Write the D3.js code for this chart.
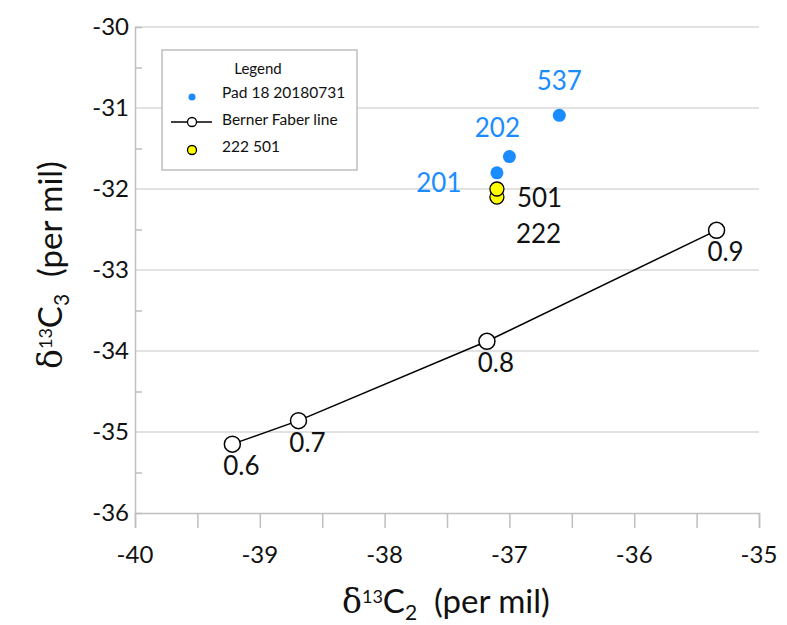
<!DOCTYPE html>
<html>
<head>
<meta charset="utf-8">
<script src="https://cdn.jsdelivr.net/npm/d3@7"></script>
<style>
  body { margin: 0; background: #fff; }
  svg { display: block; font-family: Lato, "Open Sans", sans-serif; }
</style>
</head>
<body>
<div id="chart"></div>
<script>
// Pad 18 20180731 samples
const padX = [-36.6, -37.0, -37.1];
const padY = [-31.09, -31.6, -31.8];
const padLabels = ['537', '202', '201'];

// 222 / 501 samples
const sampleX = [-37.1, -37.1];
const sampleY = [-32.1, -32.0];
const sampleLabels = ['222', '501'];

// Berner Faber line
const bernerX = [-39.22, -38.69, -37.18, -35.34];
const bernerY = [-35.15, -34.86, -33.88, -32.51];
const bernerLabels = ['0.6', '0.7', '0.8', '0.9'];

const xTicks = [-40, -39, -38, -37, -36, -35];
const yTicks = [-30, -31, -32, -33, -34, -35, -36];

const blue = '#1a8cff';
const axisGrey = '#bfbfbf';
const gridGrey = '#d9d9d9';

const width = 787, height = 625;
const margin = { left: 135, right: 28, top: 27, bottom: 112 };

const svg = d3.select('#chart').append('svg')
  .attr('width', width)
  .attr('height', height);

const x = d3.scaleLinear().domain([-40, -35]).range([margin.left, width - margin.right]);
const y = d3.scaleLinear().domain([-36, -30]).range([height - margin.bottom, margin.top]);

// gridlines
svg.append('g')
  .selectAll('line')
  .data(yTicks.filter(d => d !== -36))
  .enter().append('line')
  .attr('x1', x(-40)).attr('x2', x(-35))
  .attr('y1', d => y(d)).attr('y2', d => y(d))
  .attr('stroke', gridGrey).attr('stroke-width', 1.3);

// x axis
const xAxis = svg.append('g')
  .attr('transform', `translate(0,${y(-36)})`)
  .call(d3.axisBottom(x).tickValues(d3.range(-40, -34.9, 0.5)).tickSize(15).tickFormat(''));
xAxis.selectAll('.domain').attr('stroke', axisGrey).attr('stroke-width', 1.5);
xAxis.selectAll('.tick line').attr('stroke', axisGrey).attr('stroke-width', 1.5);

svg.append('g')
  .selectAll('text')
  .data(xTicks)
  .enter().append('text')
  .attr('x', d => x(d))
  .attr('y', y(-36) + 50)
  .attr('text-anchor', 'middle')
  .attr('font-size', 24)
  .attr('fill', '#111')
  .text(d => d);

// y axis
const yAxis = svg.append('g')
  .attr('transform', `translate(${x(-40)},0)`)
  .call(d3.axisRight(y).tickValues(d3.range(-35.5, -30, 1)).tickSize(7).tickFormat(''));
yAxis.selectAll('.domain').attr('stroke', axisGrey).attr('stroke-width', 1.5);
yAxis.selectAll('.tick line').attr('stroke', axisGrey).attr('stroke-width', 1.5);

svg.append('g')
  .selectAll('text')
  .data(yTicks)
  .enter().append('text')
  .attr('x', x(-40) - 6)
  .attr('y', d => y(d))
  .attr('dy', '0.35em')
  .attr('text-anchor', 'end')
  .attr('font-size', 24)
  .attr('fill', '#111')
  .text(d => d);

// axis titles
function axisTitle(g, sub) {
  g.append('tspan').attr('font-family', '"DejaVu Serif", serif').attr('font-size', 33).text('δ');
  g.append('tspan').attr('font-size', 18).attr('dy', -10).text('13');
  g.append('tspan').attr('font-size', 33).attr('dy', 10).text('C');
  g.append('tspan').attr('font-size', 21).attr('dy', 7).text(sub);
  g.append('tspan').attr('font-size', 33).attr('dy', -7).text('\u00a0 (per mil)');
}
const xTitle = svg.append('text')
  .attr('x', 446).attr('y', 613)
  .attr('text-anchor', 'middle').attr('fill', '#111');
axisTitle(xTitle, '2');

const yTitle = svg.append('text')
  .attr('transform', 'translate(62,265) rotate(-90)')
  .attr('text-anchor', 'middle').attr('fill', '#111');
axisTitle(yTitle, '3');

// Berner Faber line
const line = d3.line().x(d => x(d[0])).y(d => y(d[1]));
const bernerPts = bernerX.map((v, i) => [v, bernerY[i], bernerLabels[i]]);
svg.append('path')
  .datum(bernerPts)
  .attr('d', line)
  .attr('fill', 'none')
  .attr('stroke', '#000')
  .attr('stroke-width', 1.5);
svg.append('g').selectAll('circle')
  .data(bernerPts)
  .enter().append('circle')
  .attr('cx', d => x(d[0])).attr('cy', d => y(d[1]))
  .attr('r', 8)
  .attr('fill', '#fff').attr('stroke', '#000').attr('stroke-width', 1.5);
svg.append('g').selectAll('text')
  .data(bernerPts)
  .enter().append('text')
  .attr('x', d => x(d[0]) + 9)
  .attr('y', d => y(d[1]) + 31)
  .attr('text-anchor', 'middle')
  .attr('font-size', 26)
  .attr('fill', '#111')
  .text(d => d[2]);

// yellow samples
const samplePts = sampleX.map((v, i) => [v, sampleY[i], sampleLabels[i]]);
svg.append('g').selectAll('circle')
  .data(samplePts)
  .enter().append('circle')
  .attr('cx', d => x(d[0])).attr('cy', d => y(d[1]))
  .attr('r', 7)
  .attr('fill', '#ffff00').attr('stroke', '#000').attr('stroke-width', 1.3);
const sampleOffsets = { '501': [20, 18], '222': [19, 46] };
svg.append('g').selectAll('text')
  .data(samplePts)
  .enter().append('text')
  .attr('x', d => x(d[0]) + sampleOffsets[d[2]][0])
  .attr('y', d => y(d[1]) + sampleOffsets[d[2]][1])
  .attr('font-size', 26)
  .attr('fill', '#111')
  .text(d => d[2]);

// blue samples
const padPts = padX.map((v, i) => [v, padY[i], padLabels[i]]);
svg.append('g').selectAll('circle')
  .data(padPts)
  .enter().append('circle')
  .attr('cx', d => x(d[0])).attr('cy', d => y(d[1]))
  .attr('r', 6.5)
  .attr('fill', blue);
const padOffsets = { '537': [0, -25], '202': [-12, -20], '201': [-58, 19] };
svg.append('g').selectAll('text')
  .data(padPts)
  .enter().append('text')
  .attr('x', d => x(d[0]) + padOffsets[d[2]][0])
  .attr('y', d => y(d[1]) + padOffsets[d[2]][1])
  .attr('text-anchor', 'middle')
  .attr('font-size', 26)
  .attr('fill', blue)
  .text(d => d[2]);

// legend
const lg = svg.append('g').attr('transform', 'translate(162,50)');
lg.append('rect')
  .attr('width', 195).attr('height', 120)
  .attr('fill', '#fff').attr('stroke', axisGrey).attr('stroke-width', 1.5);
lg.append('text').attr('x', 96).attr('y', 24).attr('text-anchor', 'middle')
  .attr('font-size', 15).attr('fill', '#111').text('Legend');
const items = ['Pad 18 20180731', 'Berner Faber line', '222 501'];
const rows = lg.selectAll('.row').data(items).enter().append('g')
  .attr('transform', (d, i) => `translate(0,${43 + i * 27})`);
rows.append('text').attr('x', 60).attr('y', 0).attr('dy', '0.35em')
  .attr('font-size', 15.5).attr('fill', '#111').text(d => d);
rows.filter((d, i) => i === 0).append('circle')
  .attr('cx', 30).attr('cy', 4).attr('r', 3.5).attr('fill', blue);
const lr = rows.filter((d, i) => i === 1);
lr.append('line').attr('x1', 9).attr('x2', 50).attr('y1', 2).attr('y2', 2)
  .attr('stroke', '#000').attr('stroke-width', 1.3);
lr.append('circle').attr('cx', 30).attr('cy', 2).attr('r', 4.5)
  .attr('fill', '#fff').attr('stroke', '#000').attr('stroke-width', 1.3);
rows.filter((d, i) => i === 2).append('circle')
  .attr('cx', 30).attr('cy', 3).attr('r', 4.5)
  .attr('fill', '#ffff00').attr('stroke', '#000').attr('stroke-width', 1.3);
</script>
</body>
</html>
